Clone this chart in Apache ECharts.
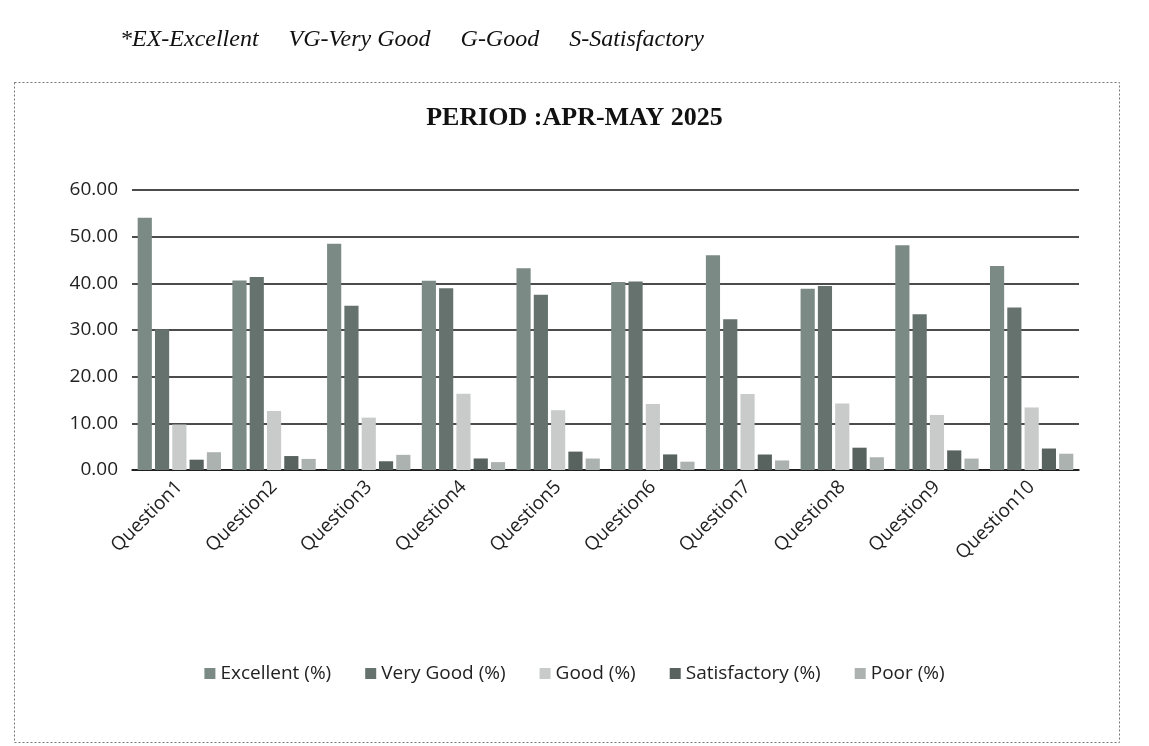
<!DOCTYPE html>
<html lang="en" style="height: 100%">
<head>
  <meta charset="utf-8">
</head>
<body style="height: 100%; margin: 0; background: #ffffff">
<div id="container" style="height: 100%"></div>

<script type="text/javascript" src="https://cdn.jsdelivr.net/npm/echarts@6/dist/echarts.min.js"></script>

<script type="text/javascript">
  // values (percent of responses)
  var categories = ['Question1', 'Question2', 'Question3', 'Question4', 'Question5',
                    'Question6', 'Question7', 'Question8', 'Question9', 'Question10'];
  var excellent    = [54.05, 40.61, 48.47, 40.55, 43.25, 40.31, 46.00, 38.83, 48.15, 43.70];
  var veryGood     = [30.18, 41.38, 35.18, 38.97, 37.54, 40.41, 32.32, 39.42, 33.40, 34.81];
  var good         = [9.75, 12.64, 11.23, 16.32, 12.81, 14.16, 16.31, 14.24, 11.80, 13.40];
  var satisfactory = [2.21, 2.99, 1.87, 2.47, 3.94, 3.34, 3.32, 4.78, 4.20, 4.60];
  var poor         = [3.81, 2.38, 3.25, 1.69, 2.46, 1.78, 2.05, 2.73, 2.45, 3.49];
  var seriesNames = ['Excellent (%)', 'Very Good (%)', 'Good (%)', 'Satisfactory (%)', 'Poor (%)'];
  var yMax = 60;
  var yStep = 10;

  var colors = ['#7b8a84', '#65726d', '#c8cbca', '#58625e', '#abb2af'];
  var labelFont = '"Open Sans", "Liberation Sans", sans-serif';

  var dom = document.getElementById('container');
  var myChart = echarts.init(dom, null, {
    renderer: 'canvas',
    useDirtyRect: false
  });

  var values = [excellent, veryGood, good, satisfactory, poor];
  var series = [];
  for (var i = 0; i < seriesNames.length; i++) {
    series.push({
      name: seriesNames[i],
      type: 'bar',
      data: values[i],
      barGap: '22%',
      barCategoryGap: '12%',
      itemStyle: { color: colors[i] }
    });
  }

  var option = {
    color: colors,
    animation: false,
    title: {
      text: 'PERIOD :APR-MAY 2025',
      left: 'center',
      top: 100,
      textStyle: {
        fontFamily: '"Liberation Serif", "DejaVu Serif", serif',
        fontWeight: 'bold',
        fontSize: 26,
        color: '#111'
      }
    },
    graphic: [
      {
        type: 'rect',
        left: 12,
        top: 80,
        shape: { width: 1105, height: 660 },
        style: { fill: 'none', stroke: '#777', lineWidth: 1, lineDash: [2, 2] }
      },
      {
        type: 'text',
        left: 120,
        top: 28,
        style: {
          text: '*EX-Excellent     VG-Very Good     G-Good     S-Satisfactory',
          font: 'italic 24px "Liberation Serif", serif',
          fill: '#111'
        }
      }
    ],
    legend: {
      bottom: 58,
      left: 'center',
      itemWidth: 11,
      itemHeight: 11,
      itemGap: 34,
      icon: 'rect',
      textStyle: { fontFamily: labelFont, fontSize: 19, color: '#222' },
      data: seriesNames
    },
    grid: {
      left: 132,
      right: 70,
      top: 190,
      bottom: 276
    },
    xAxis: {
      type: 'category',
      data: categories,
      axisTick: { show: false },
      axisLine: { show: true, lineStyle: { color: '#111', width: 1.5 } },
      axisLabel: {
        rotate: 45,
        interval: 0,
        margin: 14,
        fontFamily: labelFont,
        fontSize: 19,
        color: '#222'
      }
    },
    yAxis: {
      type: 'value',
      min: 0,
      max: yMax,
      interval: yStep,
      axisLine: { show: false },
      axisTick: { show: false },
      splitLine: { lineStyle: { color: '#111', width: 1.5 } },
      axisLabel: {
        margin: 14,
        fontFamily: labelFont,
        fontSize: 19,
        color: '#222',
        formatter: function (v) { return v.toFixed(2); }
      }
    },
    series: series
  };

  myChart.setOption(option);
  window.addEventListener('resize', myChart.resize);
</script>
</body>
</html>
